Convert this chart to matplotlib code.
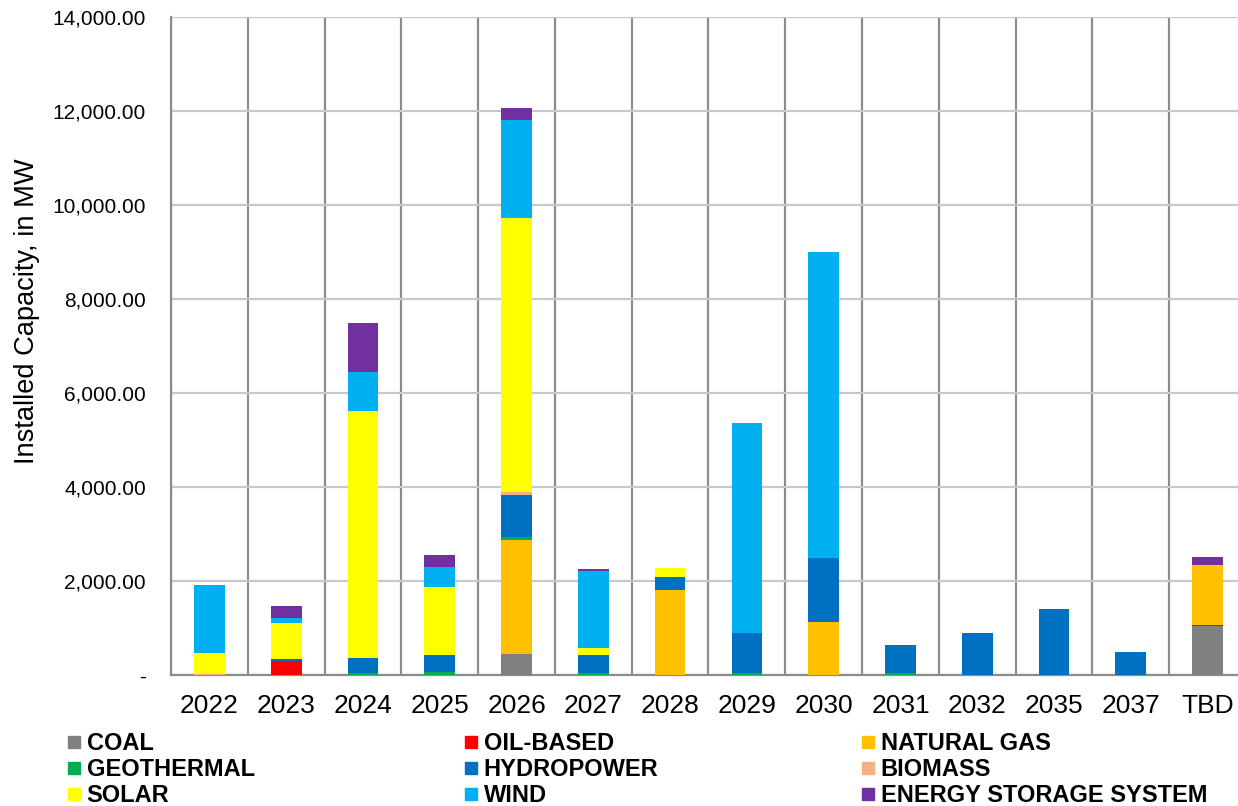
import matplotlib
matplotlib.use("Agg")
import matplotlib.pyplot as plt
import numpy as np
from matplotlib.lines import Line2D

years = ["2022", "2023", "2024", "2025", "2026", "2027", "2028", "2029",
         "2030", "2031", "2032", "2035", "2037", "TBD"]

coal = [0, 0, 0, 0, 454, 0, 0, 0, 0, 0, 0, 0, 0, 1050]
oil_based = [0, 300, 0, 0, 0, 0, 0, 0, 0, 0, 0, 0, 0, 20]
natural_gas = [0, 0, 0, 0, 2420, 0, 1800, 0, 1120, 0, 0, 0, 0, 1265]
geothermal = [0, 0, 40, 60, 57, 40, 0, 35, 0, 35, 0, 0, 0, 0]
hydropower = [0, 30, 320, 370, 907, 390, 290, 850, 1360, 600, 900, 1400, 500, 0]
biomass = [20, 0, 0, 0, 57, 0, 0, 0, 0, 0, 0, 0, 0, 0]
solar = [440, 780, 5250, 1450, 5830, 140, 190, 0, 0, 0, 0, 0, 0, 0]
wind = [1450, 100, 830, 410, 2078, 1640, 0, 4480, 6520, 0, 0, 0, 0, 0]
energy_storage = [0, 255, 1050, 260, 263, 45, 0, 0, 0, 0, 0, 0, 0, 170]

series_names = ["COAL", "OIL-BASED", "NATURAL GAS", "GEOTHERMAL", "HYDROPOWER",
                "BIOMASS", "SOLAR", "WIND", "ENERGY STORAGE SYSTEM"]
series_values = [coal, oil_based, natural_gas, geothermal, hydropower,
                 biomass, solar, wind, energy_storage]
colors = ["#808080", "#FF0000", "#FFC000", "#00B050", "#0070C0",
          "#F4B183", "#FFFF00", "#00B0F0", "#7030A0"]

yticks = [0, 2000, 4000, 6000, 8000, 10000, 12000, 14000]

fig = plt.figure(figsize=(12.38, 8.06), dpi=100)
ax = fig.add_axes([171 / 1238, 131 / 806, 1075 / 1238, 658 / 806])

x = np.arange(len(years))
bottom = np.zeros(len(years))
for name, vals, c in zip(series_names, series_values, colors):
    v = np.array(vals, dtype=float)
    ax.bar(x, v, width=0.4, bottom=bottom, color=c, label=name,
           edgecolor="none", zorder=3)
    bottom += v

ax.set_xlim(-0.5, len(years) - 0.5)
ax.set_ylim(0, 14000)
ax.set_xticks(x)
ax.set_xticklabels(years, fontsize=19, fontfamily="Liberation Sans")
ax.set_xticks(np.arange(len(years) + 1) - 0.5, minor=True)
ax.set_yticks(yticks)
ax.set_yticklabels(["-" if v == 0 else f"{v:,.2f}" for v in yticks],
                   fontsize=15, fontfamily="Liberation Sans")
ax.tick_params(axis="y", length=0, pad=18)
ax.tick_params(axis="x", which="both", length=0, pad=14)

ax.grid(axis="y", which="major", color="#C8C8C8", linewidth=1.6, zorder=1)
ax.grid(axis="x", which="major", visible=False)
ax.grid(axis="x", which="minor", color="#8C8C8C", linewidth=1.6, zorder=2)
ax.set_axisbelow(True)

for s in ["top", "right"]:
    ax.spines[s].set_visible(False)
ax.spines["left"].set_color("#8C8C8C")
ax.spines["left"].set_linewidth(1.6)
ax.spines["bottom"].set_color("#8C8C8C")
ax.spines["bottom"].set_linewidth(1.6)

ax.set_ylabel("Installed Capacity, in MW", fontsize=19.6,
              fontfamily="Liberation Sans")
ax.yaxis.set_label_coords(-0.122, 0.553)

# Legend: three columns, row-major order as in the reference
handles = [Line2D([], [], marker="s", linestyle="", markersize=8,
                  markerfacecolor=c, markeredgecolor=c) for c in colors]
col_x = [69 / 1238, 466 / 1238, 863 / 1238]
for ci in range(3):
    idx = [ci, ci + 3, ci + 6]
    leg = fig.legend([handles[i] for i in idx], [series_names[i] for i in idx],
                     loc="upper left", bbox_to_anchor=(col_x[ci], 1 - 732 / 806),
                     frameon=False, ncol=1, handlelength=0.45, handletextpad=0.3,
                     labelspacing=0.13, borderpad=0, borderaxespad=0,
                     prop={"family": "Liberation Sans", "weight": "bold",
                           "size": 17})

fig.savefig("out.png", dpi=100)
